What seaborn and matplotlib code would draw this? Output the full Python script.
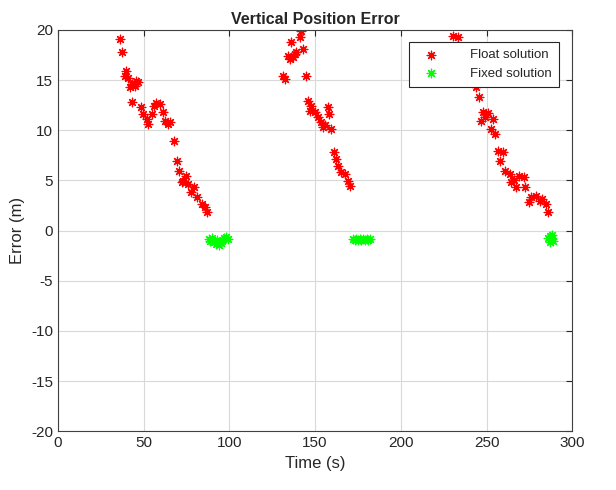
import matplotlib
matplotlib.use("Agg")
import matplotlib.pyplot as plt
import seaborn as sns
import pandas as pd

# Float solution samples (time in s, vertical error in m)
float_t = [36.5, 37.1, 40.0, 39.0, 43.0, 45.8, 44.9, 42.0, 43.3, 48.2, 49.7, 51.7,
           52.6, 54.6, 57.5, 59.4, 61.4, 64.3, 65.3, 67.6, 69.5, 70.5, 74.9, 73.0,
           72.1, 79.4, 77.9, 81.2, 84.3, 85.7, 87.0, 41.0, 46.5, 56.0, 62.5, 76.0,
           142.0, 141.0, 136.2, 143.0, 139.1, 134.2, 137.1, 135.2, 131.3, 132.3,
           144.5, 145.9, 147.8, 146.9, 149.8, 151.7, 153.7, 157.5, 158.1, 154.6,
           159.5, 160.8, 162.0, 163.3, 165.3, 167.2, 169.2, 170.2, 138.0, 156.0,
           230.4, 233.3, 244.0, 245.5, 247.8, 250.7, 246.9, 253.7, 252.7, 255.2,
           256.6, 259.5, 257.6, 260.5, 263.4, 269.2, 272.1, 264.4, 267.3, 272.7,
           276.0, 278.9, 280.9, 284.4, 285.7, 275.0, 243.0, 249.0, 266.0, 282.5]
float_e = [19.1, 17.8, 15.9, 15.4, 14.6, 14.9, 14.4, 14.3, 12.8, 12.3, 11.6, 11.1,
           10.6, 11.6, 12.7, 12.6, 11.8, 10.6, 10.8, 8.9, 6.9, 5.9, 5.4, 4.9,
           4.8, 4.3, 3.8, 3.3, 2.6, 2.3, 1.8, 15.2, 14.8, 12.4, 10.9, 4.6,
           19.9, 19.3, 18.8, 18.1, 17.8, 17.4, 17.3, 17.1, 15.4, 15.1,
           15.4, 12.9, 12.4, 11.9, 11.8, 11.3, 10.8, 12.3, 11.6, 10.3,
           10.1, 7.8, 7.1, 6.4, 5.8, 5.6, 4.9, 4.4, 17.6, 10.5,
           19.4, 19.3, 14.3, 13.3, 11.8, 11.7, 10.9, 11.1, 10.1, 9.6,
           7.9, 7.8, 6.9, 5.9, 5.6, 5.4, 5.3, 4.8, 4.3, 4.3,
           3.3, 3.4, 2.9, 2.6, 1.8, 2.8, 15.0, 11.3, 5.0, 3.1]

# Fixed solution samples
fixed_t = [88, 89, 90, 91, 92, 93, 94, 95, 96, 97, 98, 99, 90, 93,
           172, 173, 174, 175, 176, 177, 178, 179, 180, 181, 182,
           286, 287, 288, 289, 287, 288]
fixed_e = [-0.8, -1.0, -0.9, -1.1, -1.3, -1.2, -1.4, -1.2, -1.0, -0.7, -0.6, -0.8, -0.7, -0.9,
           -0.8, -0.9, -0.8, -0.9, -0.8, -0.9, -0.8, -0.9, -0.8, -0.9, -0.8,
           -0.7, -0.5, -0.8, -1.0, -1.1, -0.4]

x_ticks = [0, 50, 100, 150, 200, 250, 300]
y_ticks = [-20, -15, -10, -5, 0, 5, 10, 15, 20]

sns.set_style("white")
plt.rcParams["font.family"] = ["Liberation Sans", "DejaVu Sans"]
plt.rcParams["axes.unicode_minus"] = False

float_df = pd.DataFrame({"t": float_t, "e": float_e})
fixed_df = pd.DataFrame({"t": fixed_t, "e": fixed_e})

fig = plt.figure(figsize=(6.16, 4.90), dpi=100)
ax = fig.add_axes([0.094, 0.120, 0.835, 0.819])

star = (8, 2, 0)
sns.scatterplot(data=float_df, x="t", y="e", ax=ax, marker=star, s=38,
                color="#ff0000", edgecolor="#ff0000", linewidth=0.9,
                label="Float solution")
sns.scatterplot(data=fixed_df, x="t", y="e", ax=ax, marker=star, s=38,
                color="#00ff00", edgecolor="#00ff00", linewidth=0.9,
                label="Fixed solution")

ax.set_xlim(0, 300)
ax.set_ylim(-20, 20)
ax.set_xticks(x_ticks)
ax.set_yticks(y_ticks)
ax.grid(True, color="#d9d9d9", linewidth=0.8)
ax.set_axisbelow(True)
for sp in ax.spines.values():
    sp.set_color("#404040")
    sp.set_linewidth(0.8)
ax.tick_params(direction="in", length=4, top=True, right=True,
               labelsize=11, colors="#262626")
ax.set_xlabel("Time (s)", fontsize=12, color="#262626")
ax.set_ylabel("Error (m)", fontsize=12, color="#262626")
ax.set_title("Vertical Position Error", fontsize=11.5, fontweight="bold", pad=4)

leg = ax.legend(loc="upper right", fontsize=9.5, frameon=True, fancybox=False,
                framealpha=1.0, edgecolor="#262626", borderpad=0.55,
                handletextpad=1.9, handlelength=2.2, labelspacing=0.45,
                bbox_to_anchor=(0.975, 0.97), borderaxespad=0)
leg.get_frame().set_linewidth(0.8)
leg.set_zorder(5)

fig.savefig("out.png", dpi=100)
